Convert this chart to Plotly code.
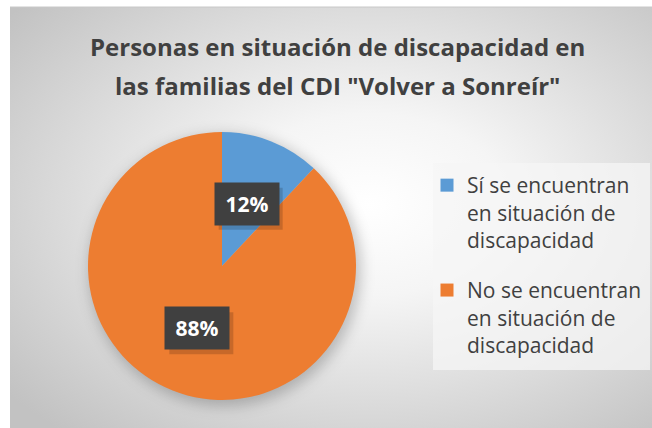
import math
import base64
import plotly.graph_objects as go

# ---------------- data ----------------
labels = [
    "Sí se encuentran en situación de discapacidad",
    "No se encuentran en situación de discapacidad",
]
legend_labels = [
    "Sí se encuentran<br>en situación de<br>discapacidad",
    "No se encuentran<br>en situación de<br>discapacidad",
]
values = [12, 88]
colors = ["#5B9BD5", "#ED7D31"]
title_lines = [
    "Personas en situación de discapacidad en",
    'las familias del CDI "Volver a Sonreír"',
]

# ---------------- geometry ----------------
W, H = 652, 428
FX0, FY0 = 10, 7             # chart frame origin (px)
cx, cy, R = 222, 266, 134    # pie centre / radius (px)
FONT = "'Open Sans', Lato, sans-serif"
TXT = "#404040"
LBL_W, LBL_H = 64, 42        # data label box size (px)

dom_x = [(cx - R) / W, (cx + R) / W]
dom_y = [1 - (cy + R) / H, 1 - (cy - R) / H]

fig = go.Figure()
fig.add_trace(go.Pie(
    labels=labels,
    values=values,
    marker=dict(colors=colors, line=dict(width=0)),
    sort=False,
    direction="clockwise",
    rotation=0,
    textinfo="none",
    hoverinfo="label+percent",
    domain=dict(x=dom_x, y=dom_y),
    showlegend=False,
))
# legend entries (one group per slice so the gap between them can be set)
for lab, col in zip(legend_labels, colors):
    fig.add_trace(go.Scatter(
        x=[None], y=[None], mode="markers", name=lab, legendgroup=lab,
        marker=dict(symbol="square", size=13, color=col),
        hoverinfo="skip",
    ))

# background gradient frame (with soft pie shadow)
fw, fh = W - FX0, H - FY0
pcx, pcy = cx - FX0, cy - FY0
svg = f'''<svg xmlns="http://www.w3.org/2000/svg" width="{fw}" height="{fh}" viewBox="0 0 {fw} {fh}" preserveAspectRatio="none">
<defs>
<radialGradient id="g" cx="0.56" cy="0.47" r="0.72">
<stop offset="0" stop-color="#ffffff"/>
<stop offset="0.3" stop-color="#f5f5f5"/>
<stop offset="1" stop-color="#c2c2c2"/>
</radialGradient>
<filter id="b" x="-20%" y="-20%" width="140%" height="140%"><feGaussianBlur stdDeviation="7"/></filter>
</defs>
<rect width="100%" height="100%" fill="url(#g)"/>
<circle cx="{pcx+3}" cy="{pcy+4}" r="{R+2}" fill="rgba(0,0,0,0.22)" filter="url(#b)"/>
</svg>'''
src = "data:image/svg+xml;base64," + base64.b64encode(svg.encode("utf-8")).decode()

shapes = [
    dict(type="line", xref="paper", yref="paper",
         x0=FX0 / W, x1=1, y0=1 - FY0 / H, y1=1 - FY0 / H,
         line=dict(color="#c8c8c8", width=1)),
    # legend panel
    dict(type="rect", xref="paper", yref="paper", layer="below",
         x0=433 / W, x1=650 / W, y0=1 - 370 / H, y1=1 - 163 / H,
         fillcolor="rgba(246,246,246,0.75)", line=dict(width=0)),
]
annotations = []
# title lines
for i, line in enumerate(title_lines):
    annotations.append(dict(
        text=f"<b>{line}</b>", xref="paper", yref="paper",
        x=337 / W, y=1 - (47 + 38 * i) / H, xanchor="center", yanchor="middle",
        showarrow=False, font=dict(family=FONT, size=24, color=TXT),
    ))

# data labels placed at half radius on each slice's mid angle
total = sum(values)
cum = 0
for v in values:
    mid = (cum + v / 2) / total
    cum += v
    ang = 2 * math.pi * mid
    px = cx + 0.5 * R * math.sin(ang)
    py = cy - 0.5 * R * math.cos(ang)
    # soft shadow of the label box
    sx, sy = px + 4, py + 5
    shapes.append(dict(
        type="rect", xref="paper", yref="paper",
        x0=(sx - LBL_W / 2) / W, x1=(sx + LBL_W / 2) / W,
        y0=1 - (sy + LBL_H / 2) / H, y1=1 - (sy - LBL_H / 2) / H,
        fillcolor="rgba(0,0,0,0.16)", line=dict(width=0),
    ))
    annotations.append(dict(
        text=f"<b>{round(100 * v / total)}%</b>", xref="paper", yref="paper",
        x=px / W, y=1 - py / H, xanchor="center", yanchor="middle",
        showarrow=False, font=dict(family=FONT, size=21, color="white"),
        bgcolor="#404040", width=LBL_W - 16, height=LBL_H - 16, borderpad=8,
    ))

fig.update_layout(
    width=W, height=H,
    margin=dict(l=0, r=0, t=0, b=0),
    paper_bgcolor="white",
    plot_bgcolor="rgba(0,0,0,0)",
    xaxis=dict(visible=False), yaxis=dict(visible=False),
    images=[dict(
        source=src, xref="paper", yref="paper",
        x=FX0 / W, y=1 - FY0 / H, sizex=fw / W, sizey=fh / H,
        xanchor="left", yanchor="top", sizing="stretch", layer="below",
    )],
    shapes=shapes,
    annotations=annotations,
    legend=dict(
        x=427 / W, y=1 - 165 / H, xanchor="left", yanchor="top",
        bgcolor="rgba(0,0,0,0)",
        font=dict(family=FONT, size=21, color=TXT),
        itemclick=False, itemdoubleclick=False,
        tracegroupgap=20, valign="top",
    ),
    font=dict(family=FONT, color=TXT),
)

fig.write_html("out.html", config={"displayModeBar": False},
               post_script="document.body.style.margin='0';")
